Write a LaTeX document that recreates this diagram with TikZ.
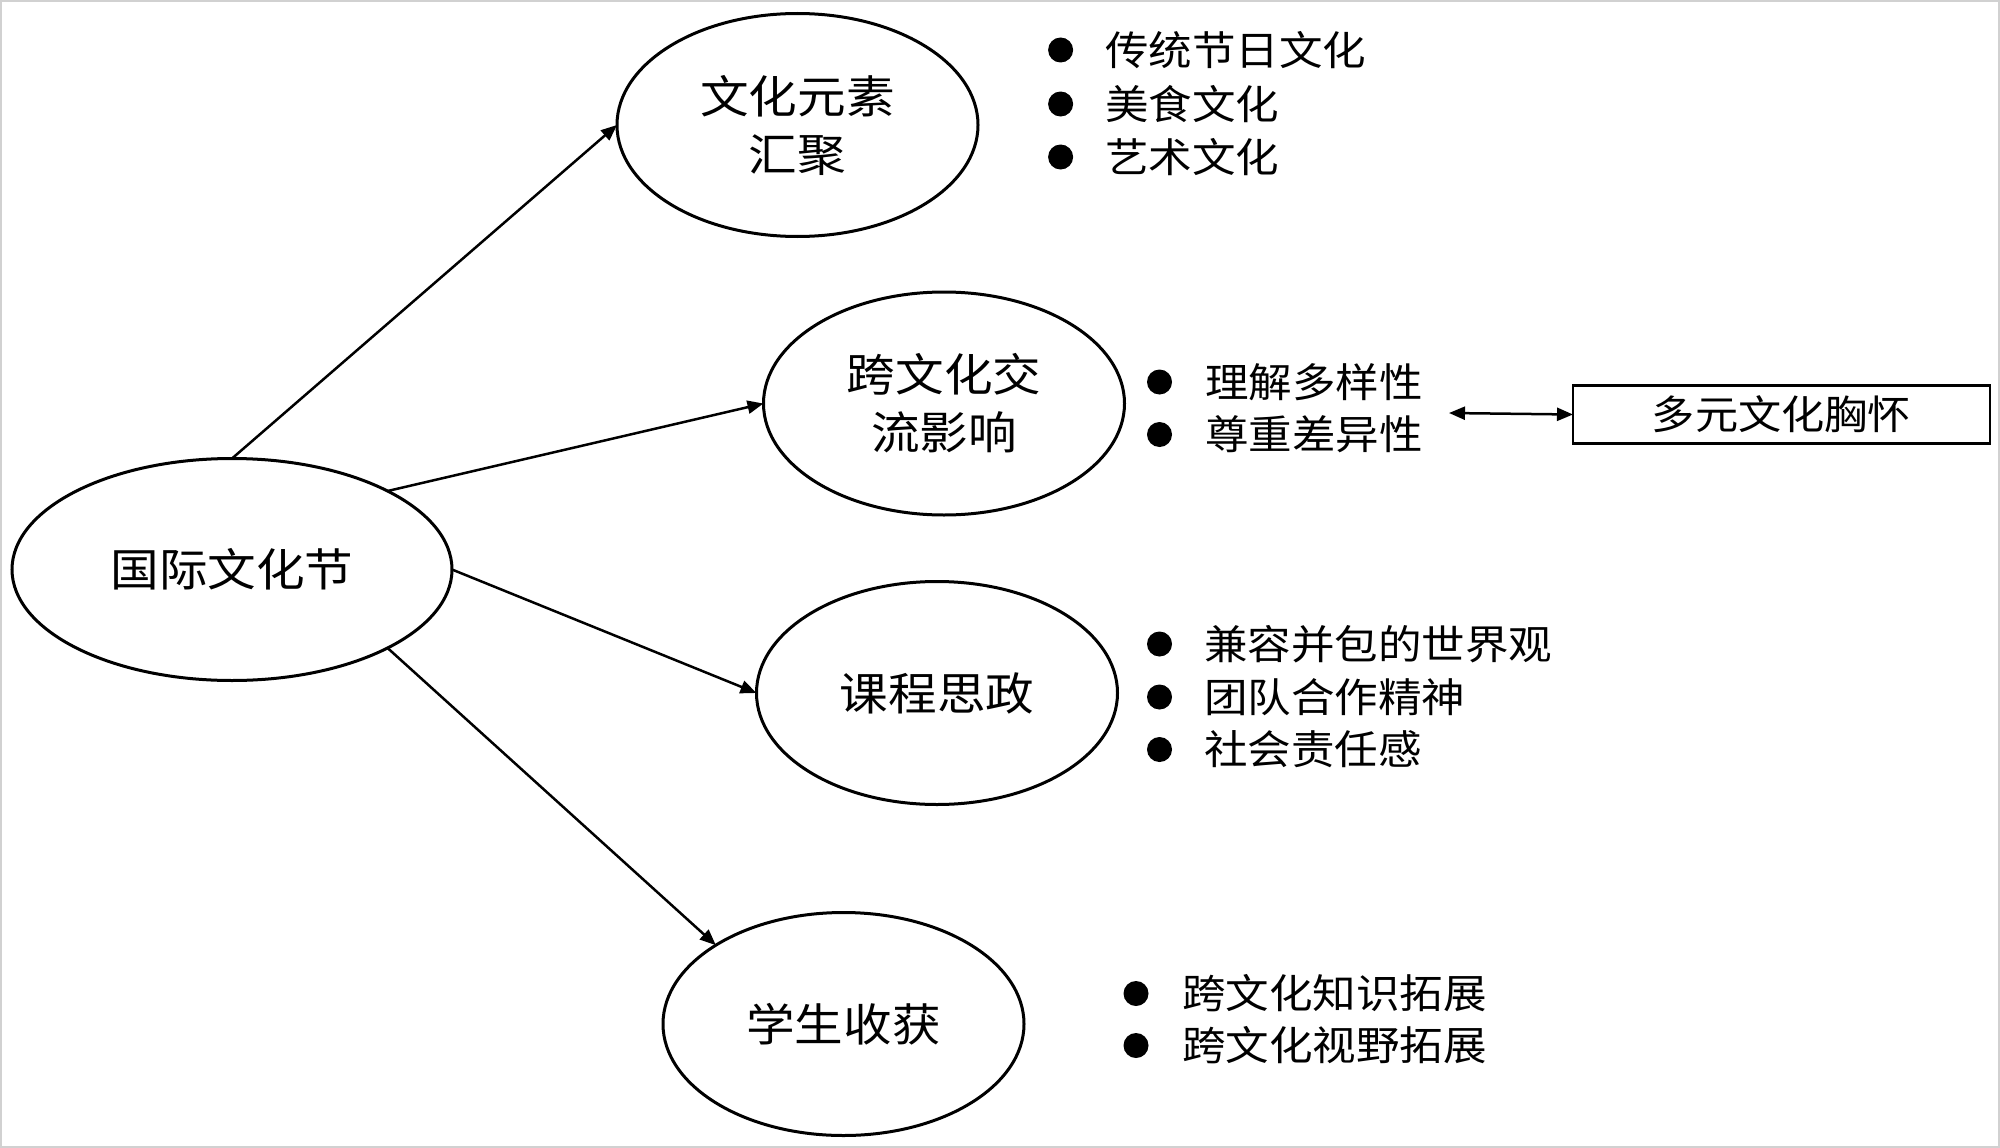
\documentclass[tikz,border=0pt]{standalone}
\usepackage{fontspec}
\usetikzlibrary{shapes.geometric,arrows.meta}
\newfontfamily\cjk[FakeStretch=1.08]{Noto Sans CJK SC}
\tikzset{
  bub/.style={ellipse,draw=black,line width=3pt,minimum width=361pt,minimum height=223pt,inner sep=0pt,outer sep=0pt,align=center,font=\cjk\fontsize{45pt}{58pt}\selectfont},
  conn/.style={line width=2.5pt,-{Triangle[length=16pt,width=13pt]}},
  dconn/.style={line width=2.5pt,{Triangle[length=16pt,width=13pt]}-{Triangle[length=16pt,width=13pt]}},
  dot/.style={circle,fill=black,draw=none,minimum size=25pt,inner sep=0pt},
  item/.style={anchor=west,inner sep=0pt,font=\cjk\fontsize{40.3pt}{50pt}\selectfont},
  tag/.style={draw=black,line width=2.5pt,minimum width=417pt,minimum height=58pt,inner sep=0pt,outer sep=0pt,font=\cjk\fontsize{40pt}{50pt}\selectfont}
}
\begin{document}
\begin{tikzpicture}[x=1pt,y=-1pt]
\useasboundingbox (0,0) rectangle (2000,1148);
\draw[draw=black!18,line width=2pt] (1,1) rectangle (1999,1147);

\node[bub,minimum width=440pt,minimum height=222pt] (c) at (232,569.5) {国际文化节};
\node[bub] (a) at (797.5,125) {文化元素\\汇聚};
\node[bub] (b) at (944,403.5) {跨文化交\\流影响};
\node[bub] (k) at (937,693) {课程思政};
\node[bub] (d) at (843.5,1024) {学生收获};

\draw[conn] (c.north) -- (a.west);
\draw[conn] (c.north east) -- (b.west);
\draw[conn] (c.east) -- (k.west);
\draw[conn] (c.south east) -- (d.north west);

% bullets for a
\node[dot] (a1d) at (1060.6,50) {};
\node[item] (a1) at (1105,50) {传统节日文化};
\node[dot] (a2d) at (1060.6,104) {};
\node[item] (a2) at (1105,104) {美食文化};
\node[dot] (a3d) at (1060.6,157) {};
\node[item] (a3) at (1105,157) {艺术文化};

% bullets for b
\node[dot] (b1d) at (1159.5,382) {};
\node[item] (b1) at (1205,382) {理解多样性};
\node[dot] (b2d) at (1159.5,434.5) {};
\node[item] (b2) at (1205,434.5) {尊重差异性};

% bullets for k
\node[dot] (k1d) at (1159.5,644) {};
\node[item] (k1) at (1204,644) {兼容并包的世界观};
\node[dot] (k2d) at (1159.5,697) {};
\node[item] (k2) at (1204,697) {团队合作精神};
\node[dot] (k3d) at (1159.5,749.5) {};
\node[item] (k3) at (1204,749.5) {社会责任感};

% bullets for d
\node[dot] (d1d) at (1136,993.5) {};
\node[item] (d1) at (1182,993.5) {跨文化知识拓展};
\node[dot] (d2d) at (1136,1045.5) {};
\node[item] (d2) at (1182,1045.5) {跨文化视野拓展};

% box
\node[tag] (m) at (1781.5,414.5) {多元文化胸怀};
\coordinate (mL) at (1449,413);
\draw[dconn] (mL) -- (m.west);
\end{tikzpicture}
\end{document}
